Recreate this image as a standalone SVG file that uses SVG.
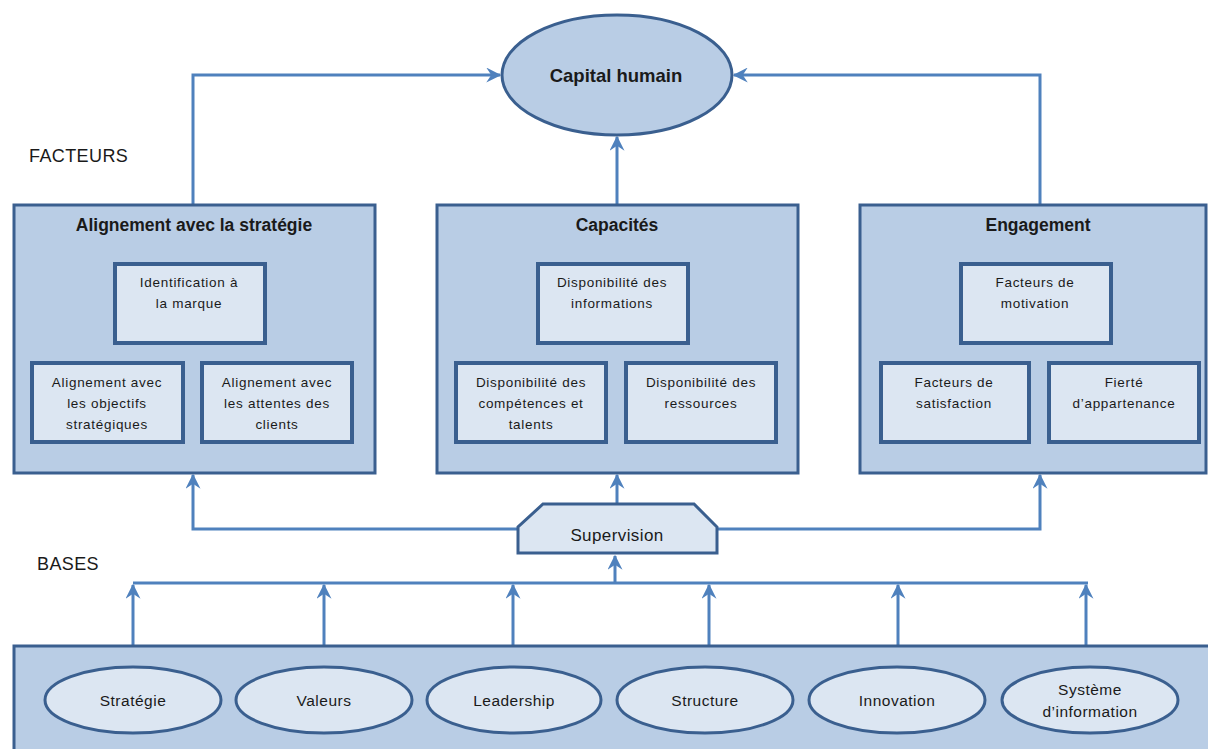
<svg xmlns="http://www.w3.org/2000/svg" width="1208" height="749" viewBox="0 0 1208 749">
<defs>
<style>
.outer{fill:#b9cde5;stroke:#3a5f8f;stroke-width:3}
.inner{fill:#dce6f2;stroke:#3a5f8f;stroke-width:4}
.ell{fill:#dce6f2;stroke:#3a5f8f;stroke-width:3}
.conn{fill:none;stroke:#4f81bd;stroke-width:3}
.t{font-family:"Liberation Sans",Arial,sans-serif;fill:#1a1a1a;text-anchor:middle}
.title{font-size:17.5px;font-weight:bold}
.small{font-size:13.5px;letter-spacing:0.7px}
.base{font-size:15.5px;letter-spacing:0.5px}
.lab{font-family:"Liberation Sans",Arial,sans-serif;font-size:18px;fill:#1a1a1a;letter-spacing:0.4px}
</style>
<marker id="arr" viewBox="0 0 12 12" refX="11" refY="6" markerWidth="15" markerHeight="15" markerUnits="userSpaceOnUse" orient="auto">
<path d="M0,0 L12,6 L0,12 L4,6 z" fill="#4f81bd"/>
</marker>
</defs>
<rect width="1208" height="749" fill="#ffffff"/>

<text class="lab" x="29" y="162">FACTEURS</text>
<text class="lab" x="37" y="570">BASES</text>

<g id="connectors">
<path class="conn" d="M193,204 V75 H500" marker-end="url(#arr)"/>
<path class="conn" d="M1040,204 V75 H734" marker-end="url(#arr)"/>
<path class="conn" d="M617,204 V137" marker-end="url(#arr)"/>
<path class="conn" d="M517,529 H193 V475" marker-end="url(#arr)"/>
<path class="conn" d="M718,529 H1040 V475" marker-end="url(#arr)"/>
<path class="conn" d="M617,503 V475" marker-end="url(#arr)"/>
<path class="conn" d="M133,583 H1088"/>
<path class="conn" d="M615,583 V556" marker-end="url(#arr)"/>
<path class="conn" d="M133,667 V585" marker-end="url(#arr)"/>
<path class="conn" d="M324,667 V585" marker-end="url(#arr)"/>
<path class="conn" d="M513,667 V585" marker-end="url(#arr)"/>
<path class="conn" d="M709,667 V585" marker-end="url(#arr)"/>
<path class="conn" d="M898,667 V585" marker-end="url(#arr)"/>
<path class="conn" d="M1086,667 V585" marker-end="url(#arr)"/>
</g>

<g id="capital-humain">
<ellipse class="ell" cx="617" cy="75" rx="115" ry="60" style="fill:#b9cde5"/>
<text class="t" x="616" y="82" style="font-size:18.5px;font-weight:bold">Capital humain</text>
</g>

<g id="alignement">
<rect class="outer" x="14" y="205" width="361" height="268"/>
<text class="t title" x="194" y="231">Alignement avec la stratégie</text>
<g id="identification">
<rect class="inner" x="115" y="264" width="150" height="79"/>
<text class="t small" x="189" y="287">Identification à</text>
<text class="t small" x="189" y="308">la marque</text>
</g>
<g id="objectifs">
<rect class="inner" x="32" y="363" width="151" height="79"/>
<text class="t small" x="107" y="387">Alignement avec</text>
<text class="t small" x="107" y="408">les objectifs</text>
<text class="t small" x="107" y="429">stratégiques</text>
</g>
<g id="attentes">
<rect class="inner" x="202" y="363" width="150" height="79"/>
<text class="t small" x="277" y="387">Alignement avec</text>
<text class="t small" x="277" y="408">les attentes des</text>
<text class="t small" x="277" y="429">clients</text>
</g>
</g>

<g id="capacites">
<rect class="outer" x="437" y="205" width="361" height="268"/>
<text class="t title" x="617" y="231">Capacités</text>
<g id="informations">
<rect class="inner" x="538" y="264" width="150" height="79"/>
<text class="t small" x="612" y="287">Disponibilité des</text>
<text class="t small" x="612" y="308">informations</text>
</g>
<g id="competences">
<rect class="inner" x="456" y="363" width="150" height="79"/>
<text class="t small" x="531" y="387">Disponibilité des</text>
<text class="t small" x="531" y="408">compétences et</text>
<text class="t small" x="531" y="429">talents</text>
</g>
<g id="ressources">
<rect class="inner" x="626" y="363" width="150" height="79"/>
<text class="t small" x="701" y="387">Disponibilité des</text>
<text class="t small" x="701" y="408">ressources</text>
</g>
</g>

<g id="engagement">
<rect class="outer" x="860" y="205" width="346" height="268"/>
<text class="t title" x="1038" y="231">Engagement</text>
<g id="motivation">
<rect class="inner" x="961" y="264" width="150" height="79"/>
<text class="t small" x="1035" y="287">Facteurs de</text>
<text class="t small" x="1035" y="308">motivation</text>
</g>
<g id="satisfaction">
<rect class="inner" x="881" y="363" width="148" height="79"/>
<text class="t small" x="954" y="387">Facteurs de</text>
<text class="t small" x="954" y="408">satisfaction</text>
</g>
<g id="fierte">
<rect class="inner" x="1049" y="363" width="150" height="79"/>
<text class="t small" x="1124" y="387">Fierté</text>
<text class="t small" x="1124" y="408">d’appartenance</text>
</g>
</g>

<g id="supervision">
<path class="inner" style="stroke-width:3" d="M543,504 H694 L717,527 V553 H518 V527 Z"/>
<text class="t" x="617" y="541" style="font-size:17px;letter-spacing:0.4px">Supervision</text>
</g>

<g id="bases">
<rect class="outer" x="14" y="646" width="1200" height="110"/>
<g id="strategie">
<ellipse class="ell" cx="133" cy="700" rx="88" ry="33"/>
<text class="t base" x="133" y="706">Stratégie</text>
</g>
<g id="valeurs">
<ellipse class="ell" cx="324" cy="700" rx="88" ry="33"/>
<text class="t base" x="324" y="706">Valeurs</text>
</g>
<g id="leadership">
<ellipse class="ell" cx="514" cy="700" rx="87" ry="33"/>
<text class="t base" x="514" y="706">Leadership</text>
</g>
<g id="structure">
<ellipse class="ell" cx="705" cy="700" rx="88" ry="33"/>
<text class="t base" x="705" y="706">Structure</text>
</g>
<g id="innovation">
<ellipse class="ell" cx="897" cy="700" rx="88" ry="33"/>
<text class="t base" x="897" y="706">Innovation</text>
</g>
<g id="systeme">
<ellipse class="ell" cx="1090" cy="700" rx="88" ry="33"/>
<text class="t base" x="1090" y="695">Système</text>
<text class="t base" x="1090" y="717">d’information</text>
</g>
</g>
</svg>
